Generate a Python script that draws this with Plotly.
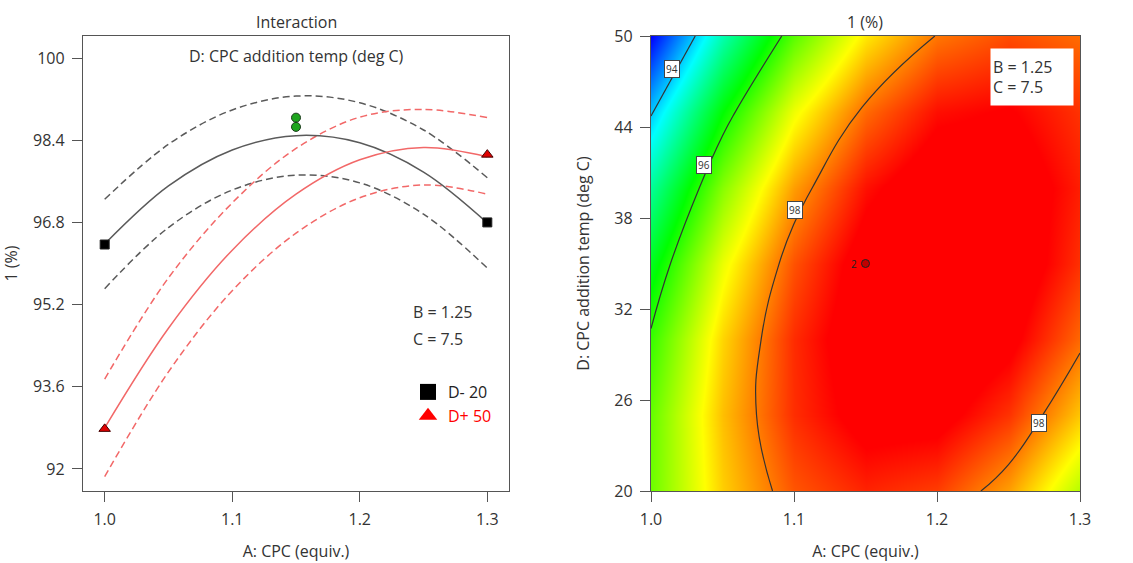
import plotly.graph_objects as go

# ---------------- data ----------------
A_levels = [1.0, 1.05, 1.1, 1.15, 1.2, 1.25, 1.3]

# D- = 20 deg C : prediction and 95% CI band
dlow_mean = [96.38, 97.51, 98.21, 98.49, 98.35, 97.78, 96.79]
dlow_upper = [97.25, 98.32, 98.99, 99.26, 99.13, 98.60, 97.67]
dlow_lower = [95.51, 96.70, 97.43, 97.72, 97.57, 96.96, 95.91]

# D+ = 50 deg C
dhigh_mean = [92.80, 94.74, 96.26, 97.35, 98.02, 98.26, 98.08]
dhigh_upper = [93.75, 95.72, 97.18, 98.24, 98.85, 99.00, 98.84]
dhigh_lower = [91.85, 93.89, 95.47, 96.59, 97.28, 97.53, 97.35]

# design points
pts_low_A = [1.0, 1.3]
pts_low_y = [96.37, 96.80]
pts_high_A = [1.0, 1.3]
pts_high_y = [92.78, 98.12]
center_A = [1.15, 1.15]
center_y = [98.84, 98.66]

# contour surface (B = 1.25, C = 7.5)
grid_A = [1.0, 1.05, 1.1, 1.15, 1.2, 1.25, 1.3]
grid_D = [20, 25, 30, 35, 40, 45, 50]
grid_z = [
    [96.38, 97.51, 98.21, 98.50, 98.35, 97.78, 96.79],
    [96.33, 97.60, 98.44, 98.86, 98.85, 98.41, 97.55],
    [96.07, 97.47, 98.45, 99.00, 99.12, 98.82, 98.10],
    [95.58, 97.12, 98.23, 98.92, 99.18, 99.01, 98.42],
    [94.87, 96.54, 97.79, 98.61, 99.01, 98.98, 98.53],
    [93.95, 95.75, 97.14, 98.09, 98.62, 98.73, 98.41],
    [92.80, 94.74, 96.26, 97.35, 98.02, 98.26, 98.08],
]
cp_A = [1.15]
cp_D = [35]

x_ticks = [1.0, 1.1, 1.2, 1.3]
y_ticks_left = [92, 93.6, 95.2, 96.8, 98.4, 100]
y_ticks_left_text = ["92", "93.6", "95.2", "96.8", "98.4", "100"]
y_ticks_right = [20, 26, 32, 38, 44, 50]

# ---------------- figure ----------------
GREY = "#5a5a5a"
RED = "#f26868"
FS = 16
fig = go.Figure()

def curve(xs, ys, color, dash):
    fig.add_trace(go.Scatter(x=xs, y=ys, mode="lines", showlegend=False,
                             line=dict(color=color, width=1.5, dash=dash, shape="spline", smoothing=1.0),
                             xaxis="x", yaxis="y", hoverinfo="skip"))

curve(A_levels, dlow_upper, GREY, "7px,4px")
curve(A_levels, dlow_lower, GREY, "7px,4px")
curve(A_levels, dhigh_upper, RED, "7px,4px")
curve(A_levels, dhigh_lower, RED, "7px,4px")
curve(A_levels, dlow_mean, GREY, "solid")
curve(A_levels, dhigh_mean, RED, "solid")

fig.add_trace(go.Scatter(x=pts_low_A, y=pts_low_y, mode="markers", showlegend=False,
                         marker=dict(symbol="square", size=9, color="black",
                                     line=dict(color="#222", width=1))))
fig.add_trace(go.Scatter(x=pts_high_A, y=pts_high_y, mode="markers", showlegend=False,
                         marker=dict(symbol="triangle-up", size=10, color="#e00000",
                                     line=dict(color="#400", width=1))))
fig.add_trace(go.Scatter(x=center_A, y=center_y, mode="markers", showlegend=False,
                         marker=dict(symbol="circle", size=9, color="#1ea51e",
                                     line=dict(color="#1a3a1a", width=1))))

# legend entries
fig.add_trace(go.Scatter(x=[None], y=[None], mode="markers", name="D- 20",
                         marker=dict(symbol="square", size=16, color="black")))
fig.add_trace(go.Scatter(x=[None], y=[None], mode="markers",
                         name="<span style='color:#ff0000'>D+ 50</span>",
                         marker=dict(symbol="triangle-up", size=16, color="#ff0000")))

# right: contour
fig.add_trace(go.Contour(
    x=grid_A, y=grid_D, z=grid_z, xaxis="x2", yaxis="y2",
    zmin=92.8, zmax=98.7, zauto=False,
    colorscale=[[0, "#0000ff"], [0.25, "#00ffff"], [0.5, "#00ff00"],
                [0.75, "#ffff00"], [1, "#ff0000"]],
    contours=dict(start=94, end=98, size=2, coloring="heatmap", showlabels=False),
    line=dict(color="#333333", width=1.2, smoothing=1.3),
    showscale=False, hoverinfo="skip"))
fig.add_trace(go.Scatter(x=cp_A, y=cp_D, mode="markers", xaxis="x2", yaxis="y2",
                         showlegend=False,
                         marker=dict(symbol="circle", size=8, color="#c00000",
                                     line=dict(color="#222", width=1))))

axis_common = dict(showline=True, mirror=True, linecolor="#555", linewidth=1.3,
                   ticks="outside", ticklen=10, tickcolor="#555", showgrid=False,
                   zeroline=False, tickfont=dict(size=FS, color="#333"),
                   ticklabelstandoff=4, automargin=False)

Y0, Y1 = 1 - 491 / 563, 1 - 36 / 563
fig.update_layout(
    width=1133, height=563,
    margin=dict(l=0, r=0, t=0, b=0, autoexpand=False),
    paper_bgcolor="white", plot_bgcolor="white",
    font=dict(family="Open Sans", size=FS, color="#333"),
    xaxis=dict(domain=[83 / 1133, 509 / 1133], range=[0.983, 1.317],
               tickvals=x_ticks, tickformat=".1f",
               title=dict(text="A: CPC (equiv.)", standoff=16, font=dict(size=FS)),
               **axis_common),
    yaxis=dict(domain=[Y0, Y1], range=[91.57, 100.43],
               tickvals=y_ticks_left, ticktext=y_ticks_left_text,
               title=dict(text="1 (%)", standoff=12, font=dict(size=FS)),
               **axis_common),
    xaxis2=dict(domain=[651 / 1133, 1080 / 1133], range=[1.0, 1.3], anchor="y2",
                tickvals=x_ticks, tickformat=".1f",
                title=dict(text="A: CPC (equiv.)", standoff=16, font=dict(size=FS)),
                **axis_common),
    yaxis2=dict(domain=[Y0, Y1], range=[20, 50], anchor="x2",
                tickvals=y_ticks_right,
                title=dict(text="D: CPC addition temp (deg C)", standoff=20, font=dict(size=FS)),
                **axis_common),
    legend=dict(x=408 / 1133, y=1 - 375 / 563, xanchor="left", yanchor="top",
                bgcolor="rgba(0,0,0,0)", font=dict(size=FS, color="#222"),
                itemsizing="trace", tracegroupgap=0),
)

ann = []
def txt(s, x, y, xanchor="center", yanchor="middle", **kw):
    d = dict(text=s, x=x / 1133, y=1 - y / 563, xref="paper", yref="paper",
             xanchor=xanchor, yanchor=yanchor,
             showarrow=False, font=dict(size=FS, color="#333"))
    d.update(kw)
    ann.append(d)

txt("Interaction", 296, 22)
txt("D: CPC addition temp (deg C)", 296, 56)
txt("1 (%)", 865, 22)
txt("B = 1.25", 411, 312, xanchor="left")
txt("C = 7.5", 411, 339, xanchor="left")
txt("B = 1.25<br>C = 7.5", 1074, 48, xanchor="right", yanchor="top", align="left",
    width=78, height=52, bgcolor="white", borderpad=2)
# contour level labels
for lab, ax_, dy_ in [("94", 1.0145, 47.8), ("96", 1.037, 41.5), ("98", 1.101, 38.5), ("98", 1.2716, 24.5)]:
    ann.append(dict(text=lab, x=ax_, y=dy_, xref="x2", yref="y2", showarrow=False,
                    xanchor="center", yanchor="middle",
                    bgcolor="white", bordercolor="#444", borderwidth=1, borderpad=1,
                    font=dict(size=10, color="#333")))
ann.append(dict(text="2", x=cp_A[0], y=cp_D[0], xref="x2", yref="y2", xshift=-11,
                xanchor="center", yanchor="middle",
                showarrow=False, font=dict(size=10, color="#222")))
fig.update_layout(annotations=ann)

fig.write_html("out.html", config={"displayModeBar": False},
               post_script="document.body.style.margin='0px';")
